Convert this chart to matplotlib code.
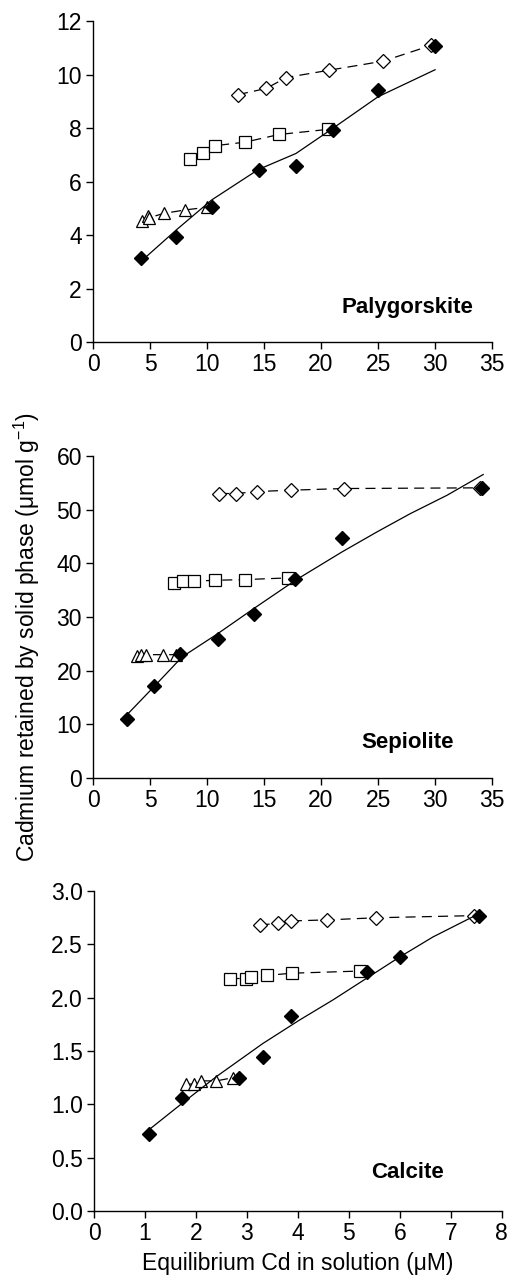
import matplotlib
matplotlib.use('Agg')
import matplotlib.pyplot as plt
from matplotlib.ticker import FormatStrFormatter

plt.rcParams['font.family'] = ['Liberation Sans', 'DejaVu Sans']
plt.rcParams['mathtext.default'] = 'regular'

# Palygorskite
paly_filled_x = [4.21, 7.31, 10.41, 14.53, 17.83, 21.02, 24.97, 30.03]
paly_filled_y = [3.13, 3.92, 5.04, 6.45, 6.59, 7.92, 9.41, 11.07]
paly_fit_x = [4.3, 7.3, 10.4, 14.5, 17.8, 21.0, 25.0, 30.0]
paly_fit_y = [3.05, 4.19, 5.31, 6.45, 7.05, 7.98, 9.17, 10.18]
paly_diam_x = [12.72, 15.18, 16.96, 20.67, 25.44, 29.65]
paly_diam_y = [9.25, 9.48, 9.89, 10.16, 10.50, 11.09]
paly_sq_x = [8.54, 9.68, 10.67, 13.30, 16.32, 20.58]
paly_sq_y = [6.83, 7.05, 7.34, 7.47, 7.76, 7.95]
paly_tri_x = [4.30, 4.80, 4.95, 6.20, 8.10, 10.00]
paly_tri_y = [4.54, 4.72, 4.65, 4.81, 4.94, 5.04]

# Sepiolite
sep_filled_x = [2.98, 5.32, 7.66, 10.94, 14.09, 17.75, 21.84, 34.12]
sep_filled_y = [10.93, 17.14, 23.17, 25.84, 30.50, 37.14, 44.78, 54.04]
sep_fit_x = [3.07, 5.32, 7.81, 10.94, 14.09, 17.75, 21.84, 24.91, 27.84, 31.06, 34.22]
sep_fit_y = [11.99, 16.96, 22.55, 26.89, 31.55, 36.83, 42.11, 45.84, 49.25, 52.67, 56.52]
sep_diam_x = [11.08, 12.57, 14.38, 17.36, 21.99, 33.91]
sep_diam_y = [52.98, 52.98, 53.35, 53.60, 53.91, 54.04]
sep_sq_x = [7.08, 7.89, 8.83, 10.67, 13.36, 17.08]
sep_sq_y = [36.34, 36.65, 36.65, 36.83, 36.96, 37.27]
sep_tri_x = [3.86, 4.21, 4.65, 6.14, 7.31]
sep_tri_y = [22.67, 22.98, 22.98, 22.98, 22.98]

# Calcite
cal_filled_x = [1.07, 1.73, 2.84, 3.31, 3.87, 5.36, 6.01, 7.56]
cal_filled_y = [0.72, 1.06, 1.25, 1.44, 1.83, 2.24, 2.38, 2.77]
cal_fit_x = [1.10, 1.73, 2.40, 3.31, 4.03, 4.69, 5.34, 5.99, 6.65, 7.56]
cal_fit_y = [0.77, 1.01, 1.26, 1.57, 1.79, 1.98, 2.18, 2.38, 2.57, 2.79]
cal_diam_x = [3.25, 3.61, 3.86, 4.58, 5.54, 7.45]
cal_diam_y = [2.68, 2.70, 2.72, 2.73, 2.75, 2.77]
cal_sq_x = [2.66, 2.99, 3.08, 3.40, 3.89, 5.21]
cal_sq_y = [2.18, 2.18, 2.19, 2.21, 2.23, 2.25]
cal_tri_x = [1.81, 1.97, 2.10, 2.40, 2.73]
cal_tri_y = [1.19, 1.19, 1.22, 1.22, 1.25]

DASH = (0, (8, 5))


def _panel(ax, filled, fit, diam, sq, tri, xmax, xstep, ymax, ystep, name, name_pos):
    for (xs, ys), m, ms in ((tri, '^', 9), (sq, 's', 8), (diam, 'D', 7)):
        ax.plot(xs, ys, color='black', lw=0.9, ls=DASH, marker=m, ms=ms,
                mfc='white', mec='black', mew=0.9, clip_on=False)
    ax.plot(fit[0], fit[1], color='black', lw=0.9)
    ax.plot(filled[0], filled[1], ls='none', marker='D', ms=7.5,
            mfc='black', mec='black', clip_on=False)

    ax.set_xlim(0, xmax)
    ax.set_ylim(0, ymax)
    n = int(round(xmax / xstep))
    ax.set_xticks([i * xstep for i in range(n + 1)])
    m = int(round(ymax / ystep))
    ax.set_yticks([i * ystep for i in range(m + 1)])
    for s in ('top', 'right'):
        ax.spines[s].set_visible(False)
    for s in ('left', 'bottom'):
        ax.spines[s].set_linewidth(1.0)
    ax.tick_params(direction='out', length=5, width=1.0, labelsize=16.5, pad=3)
    ax.text(name_pos[0], name_pos[1], name, transform=ax.transAxes,
            ha='right', va='center', fontsize=16, fontweight='bold')


fig = plt.figure(figsize=(5.11, 12.84), dpi=100)
ax1 = fig.add_axes([0.182, 0.7336, 0.781, 0.25])
ax2 = fig.add_axes([0.182, 0.394, 0.781, 0.251])
ax3 = fig.add_axes([0.184, 0.0569, 0.798, 0.2491])

_panel(ax1, (paly_filled_x, paly_filled_y), (paly_fit_x, paly_fit_y),
       (paly_diam_x, paly_diam_y), (paly_sq_x, paly_sq_y), (paly_tri_x, paly_tri_y),
       35, 5, 12, 2, 'Palygorskite', (0.952, 0.109))
_panel(ax2, (sep_filled_x, sep_filled_y), (sep_fit_x, sep_fit_y),
       (sep_diam_x, sep_diam_y), (sep_sq_x, sep_sq_y), (sep_tri_x, sep_tri_y),
       35, 5, 60, 10, 'Sepiolite', (0.905, 0.112))
_panel(ax3, (cal_filled_x, cal_filled_y), (cal_fit_x, cal_fit_y),
       (cal_diam_x, cal_diam_y), (cal_sq_x, cal_sq_y), (cal_tri_x, cal_tri_y),
       8, 1, 3.0, 0.5, 'Calcite', (0.858, 0.119))
ax3.yaxis.set_major_formatter(FormatStrFormatter('%.1f'))

fig.text(0.053, 1 - 637 / 1284, 'Cadmium retained by solid phase (μmol g$^{-1}$)',
         rotation=90, ha='center', va='center', fontsize=16.5)
ax3.set_xlabel('Equilibrium Cd in solution (μM)', fontsize=16.5, labelpad=5)

fig.savefig('out.png', dpi=100)
